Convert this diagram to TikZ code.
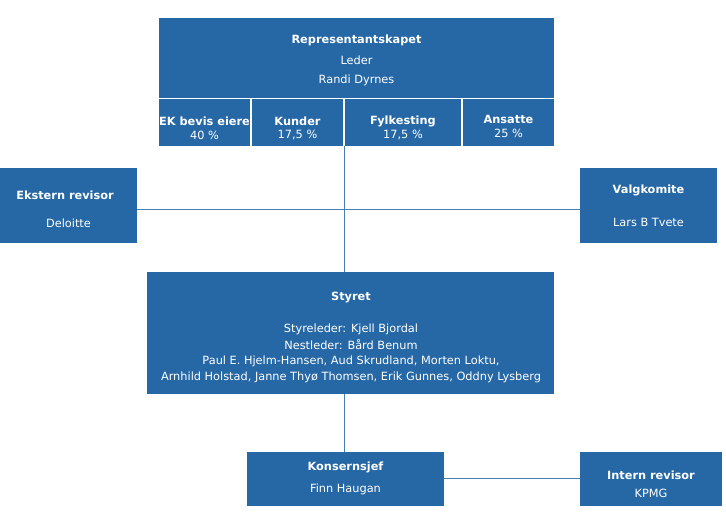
\documentclass[tikz,border=0pt]{standalone}
\usepackage{fontspec}
\setmainfont{DejaVu Sans}
\definecolor{boxblue}{RGB}{38,104,166}
\begin{document}
\begin{tikzpicture}[x=0.75pt,y=-0.75pt,
  box/.style={fill=boxblue,draw=none,inner sep=0pt},
  lbl/.style={text=white,font=\fontsize{8.5pt}{10pt}\selectfont,inner sep=0pt,anchor=center,yshift=-1.4pt},
  ttl/.style={lbl,font=\fontsize{8.5pt}{10pt}\selectfont\bfseries},
  conn/.style={draw=boxblue!85!white,line width=0.75pt}]
\useasboundingbox (0,0) rectangle (726,512);
% boxes
\node[box,minimum width=395*0.75pt,minimum height=80*0.75pt] (rep) at (356.5,58) {};
\node[box,minimum width=91*0.75pt,minimum height=47*0.75pt] (ek) at (204.5,122.5) {};
\node[box,minimum width=91*0.75pt,minimum height=47*0.75pt] (kun) at (297.5,122.5) {};
\node[box,minimum width=116*0.75pt,minimum height=47*0.75pt] (fyl) at (403,122.5) {};
\node[box,minimum width=91*0.75pt,minimum height=47*0.75pt] (ans) at (508.5,122.5) {};
\node[box,minimum width=137*0.75pt,minimum height=75*0.75pt] (ekst) at (68.5,205.5) {};
\node[box,minimum width=137*0.75pt,minimum height=75*0.75pt] (valg) at (648.5,205.5) {};
\node[box,minimum width=407*0.75pt,minimum height=122*0.75pt] (sty) at (350.5,333) {};
\node[box,minimum width=197*0.75pt,minimum height=54*0.75pt] (kons) at (345.5,479) {};
\node[box,minimum width=142*0.75pt,minimum height=54*0.75pt] (intern) at (651,479) {};
% connectors
\coordinate (hl) at (137,209);
\coordinate (hr) at (580,209);
\draw[conn] (hl) -- (hr);
\draw[conn] (fyl.south west) -- (sty.north -| fyl.south west);
\draw[conn] (sty.south -| fyl.south west) -- (kons.north -| fyl.south west);
\coordinate (kl) at (444,478);
\coordinate (kr) at (580,478);
\draw[conn] (kl) -- (kr);
% texts
\node[ttl] (t1) at (356.5,38) {Representantskapet};
\node[lbl] (t2) at (356.5,58.5) {Leder};
\node[lbl] (t3) at (356.5,78) {Randi Dyrnes};
\node[ttl] (t4) at (204.5,119.5) {EK bevis eiere};
\node[lbl] (t5) at (204.5,133.5) {40 \%};
\node[ttl] (t6) at (297.5,119.5) {Kunder};
\node[lbl] (t7) at (297.5,133.5) {17,5 \%};
\node[ttl] (t8) at (403,119.5) {Fylkesting};
\node[lbl] (t9) at (403,133.5) {17,5 \%};
\node[ttl] (t10) at (508.5,117.5) {Ansatte};
\node[lbl] (t11) at (508.5,131.5) {25 \%};
\node[ttl] (t12) at (65,193) {Ekstern revisor};
\node[lbl] (t13) at (68.5,221) {Deloitte};
\node[ttl] (t14) at (648.5,189) {Valgkomite};
\node[lbl] (t15) at (648.5,221) {Lars B Tvete};
\node[ttl] (t16) at (351,296) {Styret};
\node[lbl] (t17) at (351,327) {Styreleder: Kjell Bjordal};
\node[lbl] (t18) at (351,343) {Nestleder: Bård Benum};
\node[lbl] (t19) at (351,359) {Paul E. Hjelm-Hansen, Aud Skrudland, Morten Loktu,};
\node[lbl] (t20) at (351,375) {Arnhild Holstad, Janne Thyø Thomsen, Erik Gunnes, Oddny Lysberg};
\node[ttl] (t21) at (345.5,466) {Konsernsjef};
\node[lbl] (t22) at (345.5,487.5) {Finn Haugan};
\node[ttl] (t23) at (651,473) {Intern revisor};
\node[lbl] (t24) at (651,491) {KPMG};
\end{tikzpicture}
\end{document}
